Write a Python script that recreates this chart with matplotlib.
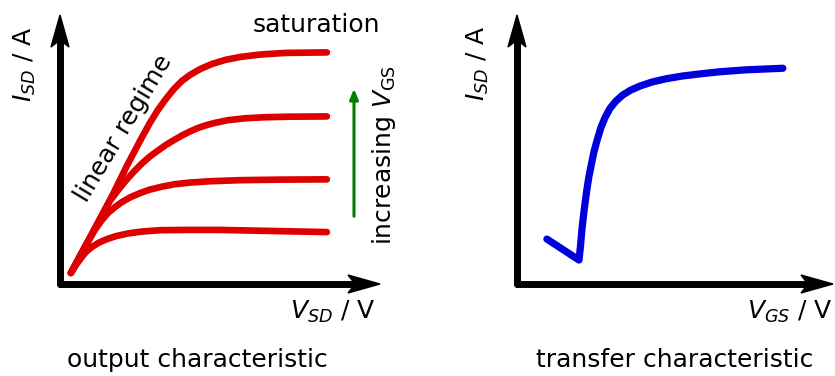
import matplotlib
matplotlib.use("Agg")
import matplotlib.pyplot as plt
from matplotlib.patches import Polygon

plt.rcParams['font.family'] = ['DejaVu Sans']
plt.rcParams['mathtext.fontset'] = 'dejavusans'

# output characteristic: V_SD vs I_SD for four gate voltages (arbitrary units)
vsd_1 = [0.34, 0.5, 0.66, 0.81, 1.0, 1.22, 1.47, 1.75, 2.13, 2.56, 3.13, 3.91, 5.0, 6.25, 7.5, 8.34]
isd_1 = [0.41, 0.71, 0.97, 1.19, 1.38, 1.54, 1.67, 1.78, 1.88, 1.95, 2.0, 2.01, 2.01, 1.98, 1.95, 1.93]

vsd_2 = [0.34, 0.78, 1.09, 1.31, 1.5, 1.72, 1.94, 2.19, 2.5, 2.81, 3.19, 3.59, 4.06, 4.69, 5.63, 6.88, 8.34]
isd_2 = [0.41, 1.38, 2.01, 2.38, 2.64, 2.86, 3.05, 3.22, 3.38, 3.51, 3.62, 3.71, 3.77, 3.82, 3.86, 3.88, 3.89]

vsd_3 = [0.34, 0.78, 1.25, 1.41, 1.56, 1.81, 2.06, 2.31, 2.56, 2.81, 3.06, 3.31, 3.56, 3.81, 4.06,
         4.31, 4.56, 4.84, 5.25, 5.78, 6.41, 7.19, 8.34]
isd_3 = [0.41, 1.38, 2.42, 2.77, 3.09, 3.48, 3.85, 4.18, 4.48, 4.74, 4.96, 5.17, 5.35, 5.52, 5.67,
         5.80, 5.90, 5.99, 6.09, 6.16, 6.20, 6.22, 6.23]

vsd_4 = [0.34, 0.78, 1.25, 1.66, 2.09, 2.5, 2.81, 3.06, 3.31, 3.56, 3.81, 4.06, 4.38, 4.75, 5.16,
         5.63, 6.25, 7.03, 8.34]
isd_4 = [0.41, 1.38, 2.42, 3.35, 4.39, 5.32, 5.99, 6.47, 6.88, 7.25, 7.55, 7.77, 7.99, 8.18, 8.33,
         8.44, 8.53, 8.59, 8.61]

# transfer characteristic: V_GS vs I_SD
vgs = [0.94, 1.95, 2.00, 2.04, 2.09, 2.14, 2.20, 2.26, 2.34, 2.42, 2.52, 2.64, 2.77, 2.92, 3.11,
       3.33, 3.58, 3.87, 4.25, 4.69, 5.19, 5.75, 6.38, 7.17, 8.36]
isd_t = [1.67, 0.89, 1.45, 2.01, 2.53, 3.01, 3.53, 3.98, 4.46, 4.91, 5.35, 5.82, 6.19, 6.52, 6.80,
         7.03, 7.21, 7.36, 7.51, 7.63, 7.73, 7.81, 7.89, 7.96, 8.02]

W, H = 835, 376
fig = plt.figure(figsize=(W / 100, H / 100), dpi=100)

# overlay in pixel coordinates for the arrow axes and labels
ov = fig.add_axes([0, 0, 1, 1])
ov.set_xlim(0, W)
ov.set_ylim(H, 0)
ov.axis('off')

def panel(x0, x1, y0, y1):
    ax = fig.add_axes([x0 / W, (H - y1) / H, (x1 - x0) / W, (y1 - y0) / H])
    ax.set_xlim(0, 10)
    ax.set_ylim(0, 10)
    ax.axis('off')
    ax.patch.set_alpha(0)
    return ax

def axis_arrows(ox, oy, xtip, ytip):
    lw = 5
    ov.plot([ox - 2, xtip - 20], [oy, oy], color='black', lw=lw, solid_capstyle='butt')
    ov.plot([ox, ox], [oy + 2, ytip + 20], color='black', lw=lw, solid_capstyle='butt')
    ov.add_patch(Polygon([(xtip, oy), (xtip - 32, oy - 9), (xtip - 25, oy), (xtip - 32, oy + 9)],
                         closed=True, color='black'))
    ov.add_patch(Polygon([(ox, ytip), (ox - 9, ytip + 32), (ox, ytip + 25), (ox + 9, ytip + 32)],
                         closed=True, color='black'))

red = '#dd0000'
blue = '#0000dd'
fs = 18

# left panel
axL = panel(60, 380, 15, 284)
for v, i in [(vsd_1, isd_1), (vsd_2, isd_2), (vsd_3, isd_3), (vsd_4, isd_4)]:
    axL.plot(v, i, color=red, lw=4.8, solid_capstyle='round', solid_joinstyle='round')
axis_arrows(60, 284, 380, 15)

ov.text(25, 64, r'$I_{SD}$ / A', rotation=90, ha='center', va='center', fontsize=fs)
ov.text(333, 312, r'$V_{SD}$ / V', ha='center', va='center', fontsize=fs)
ov.text(316, 25, 'saturation', ha='center', va='center', fontsize=fs)
ov.text(124, 128, 'linear regime', rotation=59, ha='center', va='center',
        fontsize=fs, rotation_mode='anchor')
ov.text(384, 155, r'increasing $V_{\mathrm{GS}}$', rotation=90, ha='center', va='center', fontsize=fs)
ov.annotate('', xy=(354, 86), xytext=(354, 219),
            arrowprops=dict(arrowstyle='-|>,head_length=0.6,head_width=0.25',
                            color='#007f00', lw=2.2))
ov.text(197, 360, 'output characteristic', ha='center', va='center', fontsize=fs)

# right panel
axR = panel(517, 835, 15, 284)
axR.plot(vgs, isd_t, color=blue, lw=5.2, solid_capstyle='round', solid_joinstyle='round')
axis_arrows(517, 284, 833, 15)

ov.text(478, 63, r'$I_{SD}$ / A', rotation=90, ha='center', va='center', fontsize=fs)
ov.text(790, 312, r'$V_{GS}$ / V', ha='center', va='center', fontsize=fs)
ov.text(675, 360, 'transfer characteristic', ha='center', va='center', fontsize=fs)

fig.savefig('out.png', dpi=100)
